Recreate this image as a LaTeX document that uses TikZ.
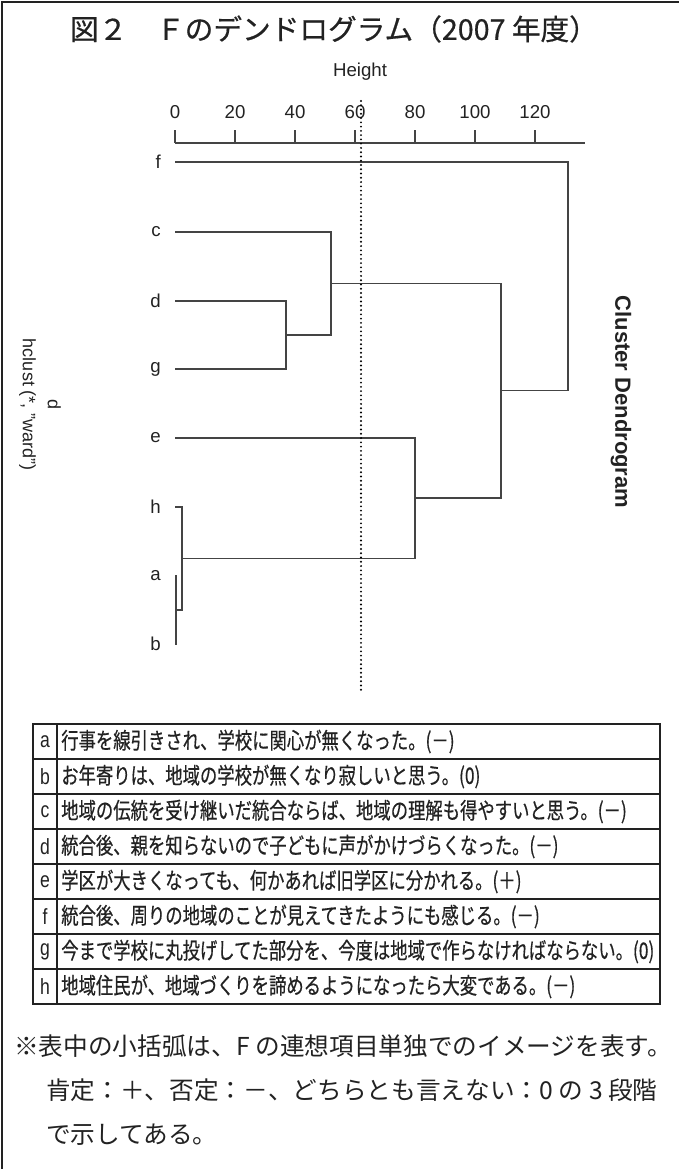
\documentclass[tikz,border=0pt]{standalone}
\usepackage{fontspec}
\setmainfont{Liberation Sans}
\newfontfamily\jp{Noto Sans CJK JP}
\newfontfamily\jpt[FakeBold=0.6]{Noto Sans CJK JP}
\newfontfamily\jpc[FakeStretch=0.765,FakeBold=0.5]{Noto Sans CJK JP}
\newfontfamily\narrow[FakeStretch=0.8]{Liberation Sans}
\definecolor{ink}{HTML}{222222}
\definecolor{dline}{HTML}{444444}
\begin{document}
\begin{tikzpicture}[x=0.75pt,y=-0.75pt,
  dend/.style={draw=dline,line width=1.1pt},
  frameline/.style={draw=ink,line width=1.3pt},
  tabline/.style={draw=ink,line width=1.5pt},
  dotline/.style={draw=black,line width=1.6pt,line cap=round,dash pattern=on 0pt off 3.2pt},
  lat/.style={font=\fontsize{14}{16}\selectfont,text=ink,inner sep=0pt},
  leaf/.style={lat,anchor=east},
  rowlab/.style={font=\narrow\fontsize{16.5}{18}\selectfont,text=ink,inner sep=0pt},
  rowtxt/.style={font=\jpc\fontsize{17}{19}\selectfont,text=ink,anchor=west,inner sep=0pt},
  note/.style={font=\jp\fontsize{18.5}{21}\selectfont,text=ink,anchor=west,inner sep=0pt}]
\useasboundingbox (0,0) rectangle (679,1169);
% frame
\coordinate (fbl) at (2,1169);
\coordinate (ftl) at (2,2);
\coordinate (ftr) at (679,2);
\draw[frameline] (fbl) -- (ftl) -- (ftr);
% title
\node[font=\jpt\fontsize{21.5}{25}\selectfont,text=ink,inner sep=0pt] (title) at (334,29) {図２　Ｆのデンドログラム（2007 年度）};
\node[lat] (height) at (360,72) {Height};
% axis
\coordinate (ax0) at (175,143);
\coordinate (ax1) at (585,143);
\draw[dend] (ax0) -- (ax1);
\foreach \v [count=\i from 0] in {0,20,40,60,80,100,120}{
  \coordinate (tk\i) at ({175+3*\v},143);
  \coordinate (tt\i) at ({175+3*\v},130);
  \draw[dend] (tk\i) -- (tt\i);
  \node[lat] (tl\i) at ({175+3*\v},112) {\v};
}
% leaves
\foreach \n/\y in {f/162,c/232,d/301,g/369,e/438,h/507,a/576,b/644}{
  \coordinate (\n0) at (175,\y);
  \node[leaf] (lab\n) at (161,\y) {\n};
}
% merges
\coordinate (ab) at (176,610);
\coordinate (hab) at (182,558.5);
\coordinate (dg) at (286,335);
\coordinate (cdg) at (331,283.5);
\coordinate (ehab) at (415,498);
\coordinate (mid) at (501,390.5);
\coordinate (root) at (568,276);
\draw[dend] (a0) -| (ab) |- (b0);
\draw[dend] (h0) -| (hab) |- (ab);
\draw[dend] (d0) -| (dg) |- (g0);
\draw[dend] (c0) -| (cdg) |- (dg);
\draw[dend] (e0) -| (ehab) |- (hab);
\draw[dend] (cdg) -| (mid) |- (ehab);
\draw[dend] (f0) -| (root) |- (mid);
% dotted cut line
\coordinate (dtop) at (361,101);
\coordinate (dbot) at (361,692);
\draw[dotline] (dtop) -- (dbot);
% rotated titles
\node[rotate=-90,font=\bfseries\fontsize{16.5}{20}\selectfont,text=ink,inner sep=0pt] (main) at (621,402) {Cluster Dendrogram};
\node[rotate=-90,align=center,font=\fontsize{13.5}{18.75}\selectfont,text=ink,inner sep=0pt] (xlab) at (40,405) {d\\hclust (*, "ward")};
% table
\coordinate (t0) at (33,724);
\coordinate (t1) at (660,1004);
\draw[tabline] (t0) rectangle (t1);
\foreach \k in {1,...,7}{
  \coordinate (hl\k) at (33,{724+35*\k});
  \coordinate (hr\k) at (660,{724+35*\k});
  \draw[tabline] (hl\k) -- (hr\k);
}
\coordinate (vt) at (57,724);
\coordinate (vb) at (57,1004);
\draw[tabline] (vt) -- (vb);
\foreach \n/\t [count=\k from 0] in {
  a/{行事を線引きされ、学校に関心が無くなった。(－)},
  b/{お年寄りは、地域の学校が無くなり寂しいと思う。(0)},
  c/{地域の伝統を受け継いだ統合ならば、地域の理解も得やすいと思う。(－)},
  d/{統合後、親を知らないので子どもに声がかけづらくなった。(－)},
  e/{学区が大きくなっても、何かあれば旧学区に分かれる。(＋)},
  f/{統合後、周りの地域のことが見えてきたようにも感じる。(－)},
  g/{今まで学校に丸投げしてた部分を、今度は地域で作らなければならない。(0)},
  h/{地域住民が、地域づくりを諦めるようになったら大変である。(－)}}{
  \node[rowlab] (rl\n) at (45,{741.5+35*\k}) {\n};
  \node[rowtxt] (rt\n) at (61,{741.5+35*\k}) {\t};
}
% footnote
\node[note] (n1) at (14,1046) {※表中の小括弧は、F の連想項目単独でのイメージを表す。};
\node[note] (n2) at (46,1090) {肯定：＋、否定：－、どちらとも言えない：0 の 3 段階};
\node[note] (n3) at (46,1135) {で示してある。};
\end{tikzpicture}
\end{document}
